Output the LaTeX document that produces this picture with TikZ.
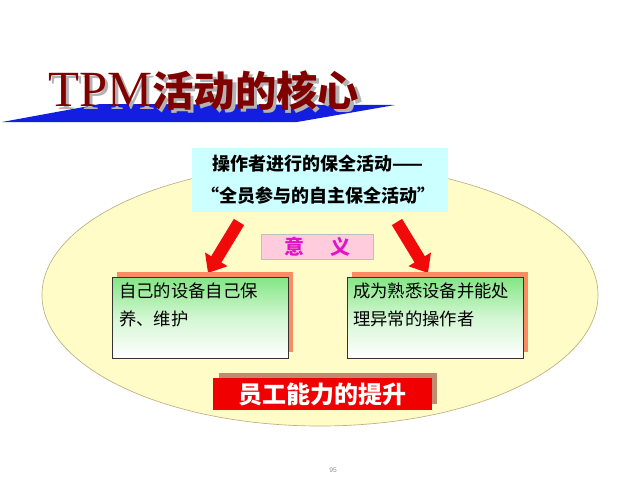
\documentclass[tikz,border=0pt]{standalone}
\usepackage{fontspec}
\setmainfont{Liberation Serif}
\newfontfamily\cjk{Noto Sans CJK SC}
\newfontfamily\tpmfont{Liberation Serif}
\newfontfamily\numfont{Liberation Sans}
\usetikzlibrary{arrows.meta}
\definecolor{ellfill}{RGB}{255,252,200}
\definecolor{elldraw}{RGB}{190,175,130}
\definecolor{cyanbox}{RGB}{204,255,255}
\definecolor{pinkbox}{RGB}{255,204,222}
\definecolor{magtext}{RGB}{225,20,200}
\definecolor{greentop}{RGB}{130,230,130}
\definecolor{salmon}{RGB}{250,140,100}
\definecolor{redbox}{RGB}{240,0,0}
\definecolor{brownshadow}{RGB}{190,140,110}
\definecolor{titlered}{RGB}{128,0,0}
\definecolor{titleblue}{RGB}{20,30,225}
\definecolor{arrowred}{RGB}{240,10,10}
\tikzset{
  greenbox/.style={draw=black!80, line width=0.6pt, top color=greentop, bottom color=white, middle color=greentop!35},
  shadowbox/.style={fill=salmon, draw=none},
  bodytext/.style={anchor=north west, align=left, font=\cjk\fontsize{13pt}{21pt}\selectfont, inner sep=0pt},
  bigarrow/.style={arrowred, line width=9pt, -{Triangle[length=12pt,width=19pt]}},
  titletext/.style={anchor=base west, inner sep=0pt},
}
\begin{document}
\begin{tikzpicture}[x=0.75pt,y=-0.75pt]
\useasboundingbox (0,0) rectangle (640,480);
% ellipse background
\filldraw[fill=ellfill, draw=elldraw, line width=0.5pt] (320,295) ellipse [x radius=278, y radius=131];
% title
\fill[titleblue] (2,122) -- (100,104) -- (395,105) -- (297,122) -- cycle;
\def\titlestr{{\tpmfont\fontsize{38pt}{38pt}\selectfont TPM}{\cjk\bfseries\fontsize{31pt}{31pt}\selectfont 活动的核心}}
\node[titletext, text=black!30] (titleshadow) at (51.5,109.5) {\titlestr};
\node[titletext, text=titlered] (title) at (48,106) {\titlestr};
% top cyan box
\fill[cyanbox] (192,148) rectangle (448,212);
\node[align=center, font=\cjk\bfseries\fontsize{13.5pt}{24pt}\selectfont, inner sep=0pt] (top) at (318,180)
  {操作者进行的保全活动——\\“全员参与的自主保全活动”};
% meaning box
\node[draw=black!25, fill=pinkbox, minimum width=84pt, minimum height=19pt, inner sep=0pt,
  font=\cjk\bfseries\fontsize{15pt}{15pt}\selectfont, text=magtext] (yiyi) at (317,246.5) {意\hspace{1.3em}义};
% arrows
\coordinate (la1) at (239,222); \coordinate (la2) at (208,273);
\coordinate (ra1) at (397,222); \coordinate (ra2) at (428,273);
\draw[bigarrow] (la1) -- (la2);
\draw[bigarrow] (ra1) -- (ra2);
% left box
\fill[shadowbox] (117,272) rectangle (293,352);
\shade[greenbox] (112,277) rectangle (288,358);
\node[bodytext] (lefttext) at (119,283) {自己的设备自己保\\养、维护};
% right box
\fill[shadowbox] (352,272) rectangle (528,352);
\shade[greenbox] (347,277) rectangle (523,358);
\node[bodytext] (righttext) at (353,283) {成为熟悉设备并能处\\理异常的操作者};
% bottom red box
\fill[brownshadow] (219,373) rectangle (437,404);
\fill[redbox] (213,378) rectangle (432,410);
\node[text=white, font=\cjk\bfseries\fontsize{18pt}{18pt}\selectfont, inner sep=0pt] (result) at (322,394) {员工能力的提升};
% page number
\node[text=black!45, font=\numfont\fontsize{5pt}{5pt}\selectfont, inner sep=0pt] (page) at (333,470) {95};
\end{tikzpicture}
\end{document}
